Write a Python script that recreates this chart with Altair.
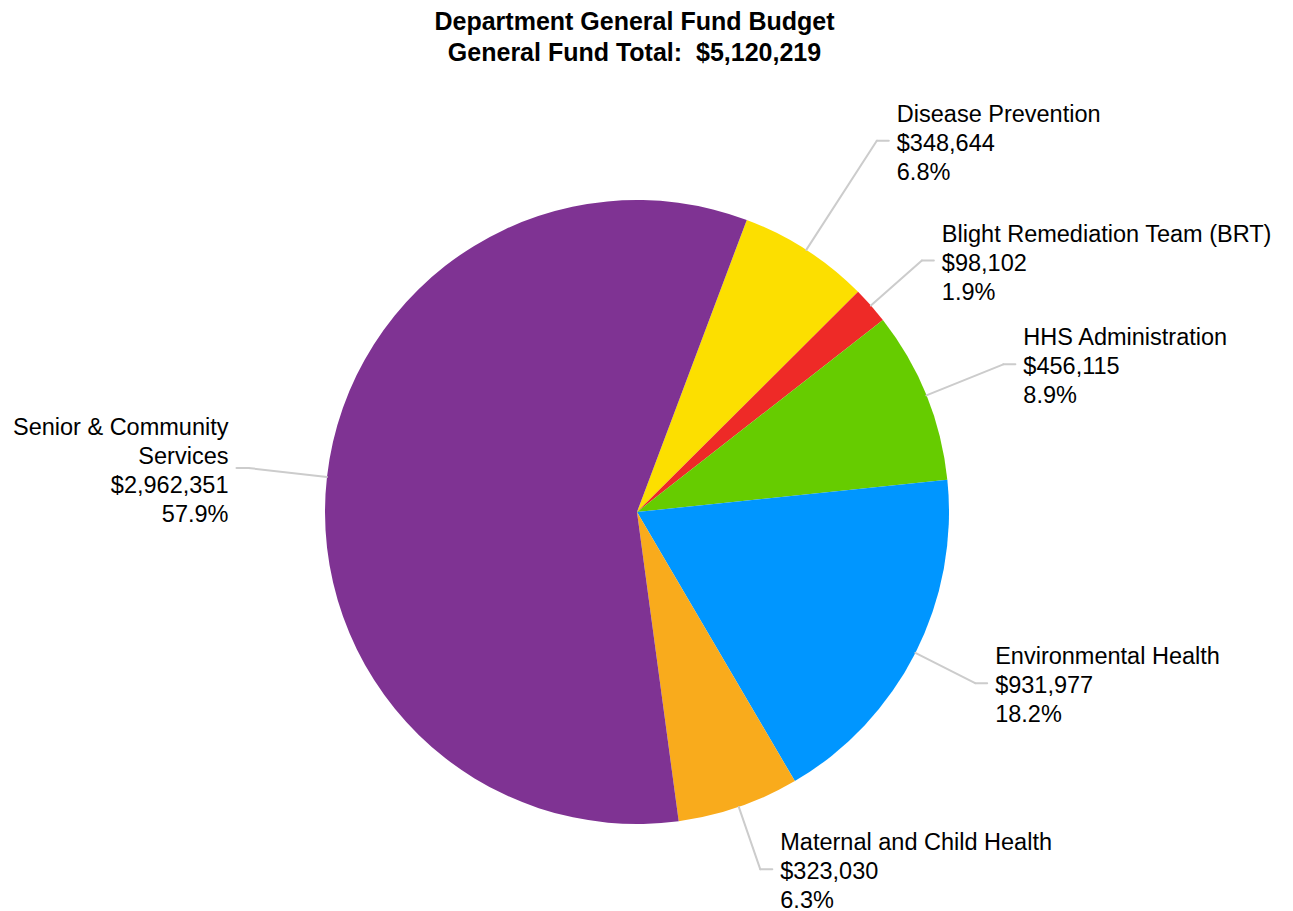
import math
import altair as alt
import pandas as pd

# ---- data ----
categories = [
    "Disease Prevention",
    "Blight Remediation Team (BRT)",
    "HHS Administration",
    "Environmental Health",
    "Maternal and Child Health",
    "Senior & Community Services",
]
values = [348644, 98102, 456115, 931977, 323030, 2962351]
label_names = [
    "Disease Prevention",
    "Blight Remediation Team (BRT)",
    "HHS Administration",
    "Environmental Health",
    "Maternal and Child Health",
    "Senior & Community\nServices",
]
colors = ["#FCDF00", "#EE2A27", "#66CC00", "#0096FF", "#F9AB1C", "#7F3393"]

# ---- layout (pixels, plot-area coordinates) ----
CX, CY, R = 629, 424, 312
START = math.radians(20.6)
label_radius = [442, 380, 395, 379, 378, 391]
FONT = "Liberation Sans"
LH = 29
total = sum(values)

df = pd.DataFrame({
    "category": categories,
    "value": values,
    "name": label_names,
    "order": list(range(len(categories))),
    "lr": label_radius,
})

base = (
    alt.Chart(df)
    .transform_joinaggregate(total="sum(value)")
    .transform_window(cum="sum(value)", sort=[alt.SortField("order")], frame=[None, 0])
    .transform_calculate(
        mid=f"{START} + 2*PI*(datum.cum - datum.value/2)/datum.total",
        ex=f"{CX} + {R}*sin(datum.mid)",
        ey=f"{CY} - {R}*cos(datum.mid)",
        ox=f"{CX} + datum.lr*sin(datum.mid)",
        oy=f"{CY} - datum.lr*cos(datum.mid)",
        side="sin(datum.mid) >= 0 ? 1 : -1",
        hx="datum.ox + 12*datum.side",
        tx="datum.ox + 20*datum.side",
        label="datum.name + '\\n' + format(datum.value, '$,') + '\\n' + format(datum.value/datum.total, '.1%')",
        nlines="length(split(datum.label, '\\n'))",
        ty=f"datum.oy - (datum.nlines - 1) * {LH} / 2 + 3",
    )
)

pie = (
    alt.Chart(df)
    .mark_arc(radius=R)
    .encode(
        theta=alt.Theta(
            "value:Q",
            stack=True,
            scale=alt.Scale(domain=[0, total], range=[START, START + 2 * math.pi]),
        ),
        color=alt.Color(
            "category:N",
            scale=alt.Scale(domain=categories, range=colors),
            legend=None,
        ),
        order=alt.Order("order:Q"),
        x=alt.value(CX),
        y=alt.value(CY),
    )
)

line_style = dict(color="#CCCCCC", strokeWidth=2, strokeCap="round")
lead1 = base.mark_rule(**line_style).encode(
    x=alt.X("ex:Q", scale=None), y=alt.Y("ey:Q", scale=None),
    x2="ox:Q", y2="oy:Q",
)
lead2 = base.mark_rule(**line_style).encode(
    x=alt.X("ox:Q", scale=None), y=alt.Y("oy:Q", scale=None),
    x2="hx:Q", y2="oy:Q",
)

text_style = dict(font=FONT, fontSize=23.5, lineBreak="\n", lineHeight=LH,
                  baseline="middle", color="#000000")
labels_right = base.transform_filter("datum.side > 0").mark_text(align="left", **text_style).encode(
    x=alt.X("tx:Q", scale=None), y=alt.Y("ty:Q", scale=None), text="label:N"
)
labels_left = base.transform_filter("datum.side < 0").mark_text(align="right", **text_style).encode(
    x=alt.X("tx:Q", scale=None), y=alt.Y("ty:Q", scale=None), text="label:N"
)

chart = (
    alt.layer(pie, lead1, lead2, labels_right, labels_left)
    .properties(
        width=1277,
        height=840,
        padding={"top": 80, "left": 0, "right": 0, "bottom": 0},
        autosize=alt.AutoSizeParams(type="none"),
        title=alt.Title(
            ["Department General Fund Budget", f"General Fund Total:\u00a0 ${total:,}"],
            font=FONT,
            fontSize=25,
            fontWeight="bold",
            color="#000000",
            anchor="middle",
            lineHeight=31,
            dx=-12,
            dy=-18,
        ),
    )
    .configure_view(stroke=None)
)

chart.save("out.html", embed_options={"renderer": "svg", "actions": False})
